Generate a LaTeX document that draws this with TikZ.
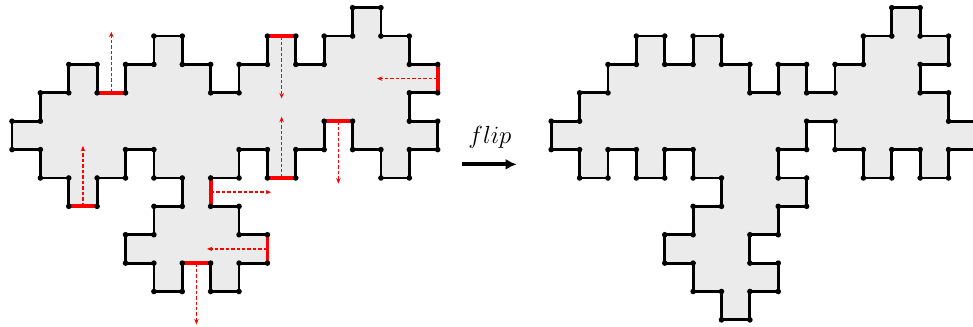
\documentclass[tikz,border=0pt]{standalone}
\usetikzlibrary{arrows.meta}
\definecolor{shapefill}{RGB}{235,235,235}
\definecolor{flipred}{RGB}{255,0,0}
\tikzset{
  outline/.style={fill=shapefill, draw=black, line width=2.8pt, line join=miter},
  flipedge/.style={draw=flipred, line width=3.8pt},
  vdot/.style={fill=black},
  move/.style={draw=flipred, line width=1.4pt, dash pattern=on 3.5pt off 2pt, -{Stealth[length=5.5pt,width=4.5pt]}},
  fliparrow/.style={draw=black, line width=3.8pt, -{Latex[length=11pt,width=11pt]}},
}
\def\leftpts{0/4,1/4,1/3,2/3,2/2,3/2,3/3,4/3,4/2,5/2,5/1,6/1,6/2,7/2,7/3,8/3,8/2,9/2,9/1,10/1,10/2,11/2,11/1,12/1,12/0,13/0,13/1,14/1,14/2,15/2,15/3,14/3,14/4,15/4,15/5,14/5,14/6,13/6,13/5,12/5,12/4,11/4,11/5,10/5,10/6,9/6,9/5,8/5,8/6,7/6,7/7,8/7,8/8,9/8,9/9,8/9,8/10,7/10,7/9,6/9,6/10,5/10,5/9,4/9,4/8,5/8,5/7,6/7,6/6,5/6,5/5,4/5,4/6,3/6,3/7,2/7,2/6,1/6,1/5,0/5}
\def\rightpts{0/4,1/4,1/3,2/3,2/2,3/2,3/1,4/1,4/2,5/2,5/1,6/1,6/2,7/2,7/3,8/3,8/2,9/2,9/3,10/3,10/2,11/2,11/1,12/1,12/0,13/0,13/1,14/1,14/2,13/2,13/3,14/3,14/4,15/4,15/5,14/5,14/6,13/6,13/5,12/5,12/6,11/6,11/5,10/5,10/4,9/4,9/5,8/5,8/6,9/6,9/7,8/7,8/8,7/8,7/9,8/9,8/10,7/10,7/11,6/11,6/10,5/10,5/9,4/9,4/8,5/8,5/7,6/7,6/6,5/6,5/5,4/5,4/6,3/6,3/5,2/5,2/6,1/6,1/5,0/5}
\begin{document}
\begin{tikzpicture}
\useasboundingbox (-0.423,0.271) rectangle (33.862,-11.251);
\clip (-0.423,0.271) rectangle (33.862,-11.251);
% left polyomino
\path[outline] (0,-4) \foreach \x/\y in \leftpts { -- (\x,-\y) } -- cycle;
\foreach \a/\b/\c/\d in {3/3/4/3, 9/1/10/1, 15/2/15/3, 12/4/11/4, 10/6/9/6, 7/6/7/7, 9/8/9/9, 7/9/6/9, 3/7/2/7}
  \draw[flipedge] (\a,-\b) -- (\c,-\d);
\foreach \x/\y in \leftpts { \fill[vdot] (\x,-\y) circle (2.8pt); }
% moves
\coordinate (m1s) at (3.5,-3);  \coordinate (m1e) at (3.5,-0.85);
\coordinate (m2s) at (2.5,-7);  \coordinate (m2e) at (2.5,-4.87);
\coordinate (m3s) at (9.5,-1);  \coordinate (m3e) at (9.5,-3.2);
\coordinate (m4s) at (9.5,-6);  \coordinate (m4e) at (9.5,-3.84);
\coordinate (m5s) at (15,-2.5); \coordinate (m5e) at (12.86,-2.5);
\coordinate (m6s) at (11.5,-4); \coordinate (m6e) at (11.5,-6.2);
\coordinate (m7s) at (7,-6.5);  \coordinate (m7e) at (9.13,-6.5);
\coordinate (m8s) at (9,-8.5);  \coordinate (m8e) at (6.87,-8.5);
\coordinate (m9s) at (6.5,-9);  \coordinate (m9e) at (6.5,-11.16);
\foreach \k in {1,...,9} \draw[move] (m\k s) -- (m\k e);
% flip arrow
\node[anchor=base, inner sep=0pt, font=\fontsize{24}{28}\selectfont] (fliplabel) at (16.84,-4.78) {$flip$};
\coordinate (fa) at (15.85,-5.52);
\coordinate (fb) at (17.78,-5.52);
\draw[fliparrow] (fa) -- (fb);
% right polyomino
\begin{scope}[xshift=19cm]
\path[outline] (0,-4) \foreach \x/\y in \rightpts { -- (\x,-\y) } -- cycle;
\foreach \x/\y in \rightpts { \fill[vdot] (\x,-\y) circle (2.8pt); }
\end{scope}
\end{tikzpicture}
\end{document}
